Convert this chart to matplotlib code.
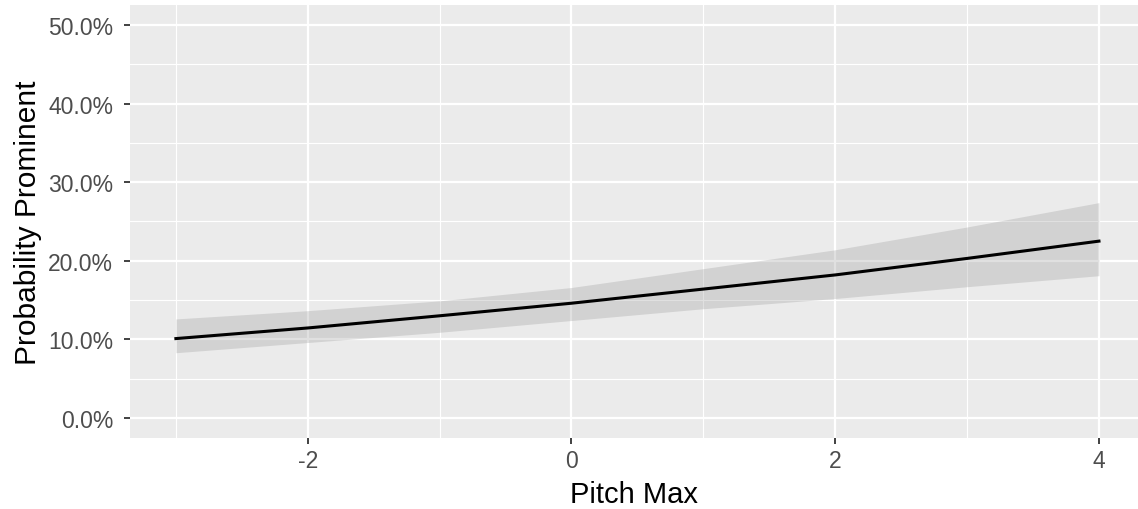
import numpy as np
import matplotlib.pyplot as plt
from matplotlib.ticker import FixedLocator, FuncFormatter

plt.rcParams['font.family'] = ['Liberation Sans', 'DejaVu Sans']
plt.rcParams['axes.unicode_minus'] = False

# values (probability, as fraction)
pitch_max = [-3, -2, -1, 0, 1, 2, 3, 4]
prob_fit = [0.101, 0.1145, 0.130, 0.146, 0.164, 0.182, 0.203, 0.225]
prob_lo = [0.083, 0.096, 0.109, 0.124, 0.139, 0.152, 0.167, 0.181]
prob_hi = [0.126, 0.1365, 0.149, 0.166, 0.190, 0.214, 0.243, 0.274]

x_ticks = [-2, 0, 2, 4]
x_minor = [-3, -1, 1, 3]
y_ticks = [0, 0.1, 0.2, 0.3, 0.4, 0.5]
y_minor = [0.05, 0.15, 0.25, 0.35, 0.45]

fig = plt.figure(figsize=(11.38, 5.10), dpi=100)
ax = fig.add_axes([0.114, 0.14, 0.886, 0.8475])
ax.set_facecolor('#EBEBEB')

ax.fill_between(pitch_max, prob_lo, prob_hi, color='#999999', alpha=0.3, lw=0, zorder=2)
ax.plot(pitch_max, prob_fit, color='black', lw=2.2, zorder=3)

ax.set_xlim(-3.35, 4.296)
ax.set_ylim(-0.025, 0.525)

ax.xaxis.set_major_locator(FixedLocator(x_ticks))
ax.xaxis.set_minor_locator(FixedLocator(x_minor))
ax.yaxis.set_major_locator(FixedLocator(y_ticks))
ax.yaxis.set_minor_locator(FixedLocator(y_minor))
ax.yaxis.set_major_formatter(FuncFormatter(lambda v, p: f"{v*100:.1f}%"))

ax.grid(which='major', color='white', lw=1.6, zorder=1)
ax.grid(which='minor', color='white', lw=0.8, zorder=1)
ax.set_axisbelow(True)

for s in ax.spines.values():
    s.set_visible(False)

ax.tick_params(which='major', length=4, width=1.3, color='#333333',
               labelcolor='#4D4D4D', labelsize=16.5)
ax.tick_params(axis='x', pad=4)
ax.tick_params(axis='y', pad=8)
ax.tick_params(which='minor', length=0)

ax.set_xlabel('Pitch Max', fontsize=21, color='black', labelpad=6)
ax.set_ylabel('Probability Prominent', fontsize=21.5, color='black', labelpad=4)

fig.savefig('out.png', dpi=100)
